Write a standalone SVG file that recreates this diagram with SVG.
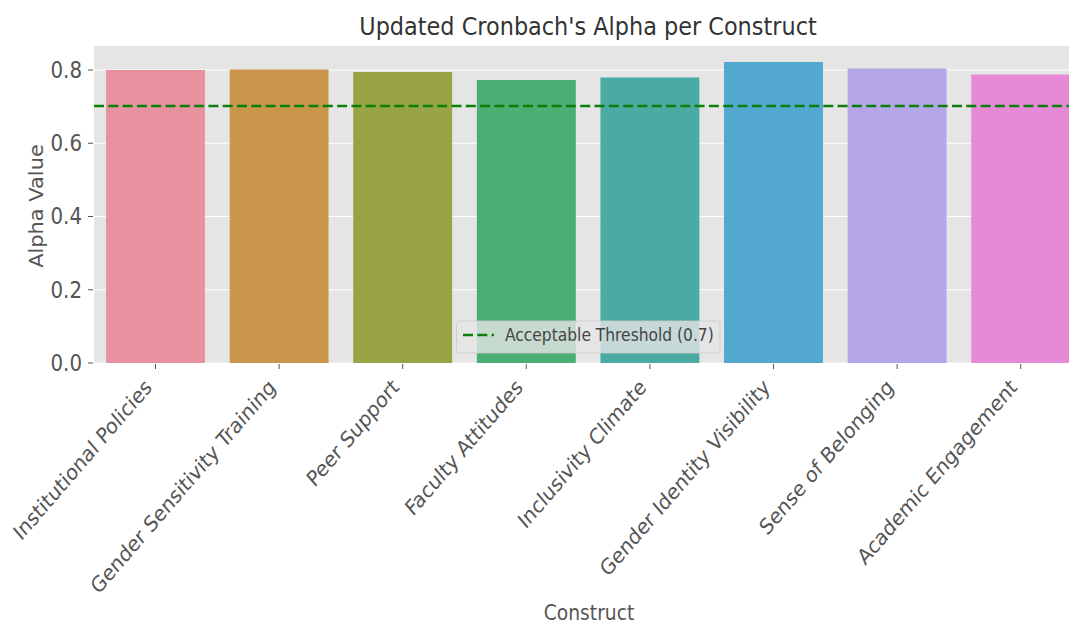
<svg xmlns="http://www.w3.org/2000/svg" width="1069" height="625" viewBox="0 0 1069 625">
  <style>
    text { font-family: "DejaVu Sans", "Liberation Sans", sans-serif; }
    .tick { font-size: 19.8px; fill: #555555; }
    .xtick { font-size: 18.7px; fill: #555555; }
    .axlabel { font-size: 18.7px; fill: #555555; }
    .title { font-size: 22.4px; fill: #333333; }
    .legtext { font-size: 15.5px; fill: #444444; }
    .grid { stroke: #ffffff; stroke-width: 1.2; }
    .tickmark { stroke: #555555; stroke-width: 1; }
    .threshold { stroke: #0a800a; stroke-width: 2.7; stroke-dasharray: 10 4.3; fill: none; }
  </style>

  <rect x="0" y="0" width="1069" height="625" fill="#ffffff"/>

  <!-- axes background -->
  <rect id="axes-bg" x="94" y="46" width="990" height="317" fill="#e5e5e5"/>

  <!-- horizontal grid -->
  <g id="grid">
    <line class="grid" x1="94" y1="363" x2="1069" y2="363"/>
    <line class="grid" x1="94" y1="289.75" x2="1069" y2="289.75"/>
    <line class="grid" x1="94" y1="216.5" x2="1069" y2="216.5"/>
    <line class="grid" x1="94" y1="143.25" x2="1069" y2="143.25"/>
    <line class="grid" x1="94" y1="70" x2="1069" y2="70"/>
  </g>

  <!-- bars, one per construct -->
  <g id="bar-institutional-policies"><rect x="106.05" y="70" width="98.9" height="293" fill="#e8929f"/></g>
  <g id="bar-gender-sensitivity-training"><rect x="229.65" y="69.5" width="98.9" height="293.5" fill="#c9964b"/></g>
  <g id="bar-peer-support"><rect x="353.25" y="72" width="98.9" height="291" fill="#98a346"/></g>
  <g id="bar-faculty-attitudes"><rect x="476.85" y="80" width="98.9" height="283" fill="#4bae73"/></g>
  <g id="bar-inclusivity-climate"><rect x="600.45" y="77.5" width="98.9" height="285.5" fill="#4aaaa4"/></g>
  <g id="bar-gender-identity-visibility"><rect x="724.05" y="62" width="98.9" height="301" fill="#53a8cf"/></g>
  <g id="bar-sense-of-belonging"><rect x="847.65" y="68.5" width="98.9" height="294.5" fill="#b5a6ea"/></g>
  <g id="bar-academic-engagement"><rect x="971.25" y="74.5" width="98.9" height="288.5" fill="#e68ad8"/></g>

  <!-- acceptable threshold at alpha = 0.7 -->
  <g id="connectors">
    <line class="threshold" x1="94" y1="106" x2="1069" y2="106"/>
  </g>

  <!-- tick marks -->
  <g id="ticks">
    <line class="tickmark" x1="88" y1="363" x2="93" y2="363"/>
    <line class="tickmark" x1="88" y1="289.75" x2="93" y2="289.75"/>
    <line class="tickmark" x1="88" y1="216.5" x2="93" y2="216.5"/>
    <line class="tickmark" x1="88" y1="143.25" x2="93" y2="143.25"/>
    <line class="tickmark" x1="88" y1="70" x2="93" y2="70"/>
    <line class="tickmark" x1="155.5" y1="364" x2="155.5" y2="369"/>
    <line class="tickmark" x1="279.1" y1="364" x2="279.1" y2="369"/>
    <line class="tickmark" x1="402.7" y1="364" x2="402.7" y2="369"/>
    <line class="tickmark" x1="526.3" y1="364" x2="526.3" y2="369"/>
    <line class="tickmark" x1="649.9" y1="364" x2="649.9" y2="369"/>
    <line class="tickmark" x1="773.5" y1="364" x2="773.5" y2="369"/>
    <line class="tickmark" x1="897.1" y1="364" x2="897.1" y2="369"/>
    <line class="tickmark" x1="1020.7" y1="364" x2="1020.7" y2="369"/>
  </g>

  <!-- y tick labels -->
  <g id="y-tick-labels" text-anchor="end">
    <text class="tick" transform="translate(82 370.8) scale(1 1.12)">0.0</text>
    <text class="tick" transform="translate(82 297.55) scale(1 1.12)">0.2</text>
    <text class="tick" transform="translate(82 224.3) scale(1 1.12)">0.4</text>
    <text class="tick" transform="translate(82 151.05) scale(1 1.12)">0.6</text>
    <text class="tick" transform="translate(82 77.8) scale(1 1.12)">0.8</text>
  </g>

  <!-- x tick labels, rotated -->
  <g id="x-tick-labels" text-anchor="end">
    <text class="xtick" transform="translate(153 388.5) scale(1 1.16) rotate(-45)">Institutional Policies</text>
    <text class="xtick" transform="translate(276.6 388.5) scale(1 1.16) rotate(-45)">Gender Sensitivity Training</text>
    <text class="xtick" transform="translate(400.2 388.5) scale(1 1.16) rotate(-45)">Peer Support</text>
    <text class="xtick" transform="translate(523.8 388.5) scale(1 1.16) rotate(-45)">Faculty Attitudes</text>
    <text class="xtick" transform="translate(647.4 388.5) scale(1 1.16) rotate(-45)">Inclusivity Climate</text>
    <text class="xtick" transform="translate(771 388.5) scale(1 1.16) rotate(-45)">Gender Identity Visibility</text>
    <text class="xtick" transform="translate(894.6 388.5) scale(1 1.16) rotate(-45)">Sense of Belonging</text>
    <text class="xtick" transform="translate(1018.2 388.5) scale(1 1.16) rotate(-45)">Academic Engagement</text>
  </g>

  <!-- legend -->
  <g id="legend">
    <rect x="456.5" y="321" width="263.5" height="32" rx="3" ry="3" fill="#e5e5e5" fill-opacity="0.8" stroke="#cccccc" stroke-opacity="0.8" stroke-width="1"/>
    <line class="threshold" x1="463" y1="335" x2="494" y2="335"/>
    <text class="legtext" transform="translate(505 341) scale(1 1.12)">Acceptable Threshold (0.7)</text>
  </g>

  <!-- titles -->
  <g id="labels" text-anchor="middle">
    <text class="title" transform="translate(588 35) scale(1 1.12)">Updated Cronbach's Alpha per Construct</text>
    <text class="axlabel" transform="translate(589 619.5) scale(1 1.12)">Construct</text>
    <text class="axlabel" transform="translate(43 206) scale(1 1.12) rotate(-90)">Alpha Value</text>
  </g>
</svg>
